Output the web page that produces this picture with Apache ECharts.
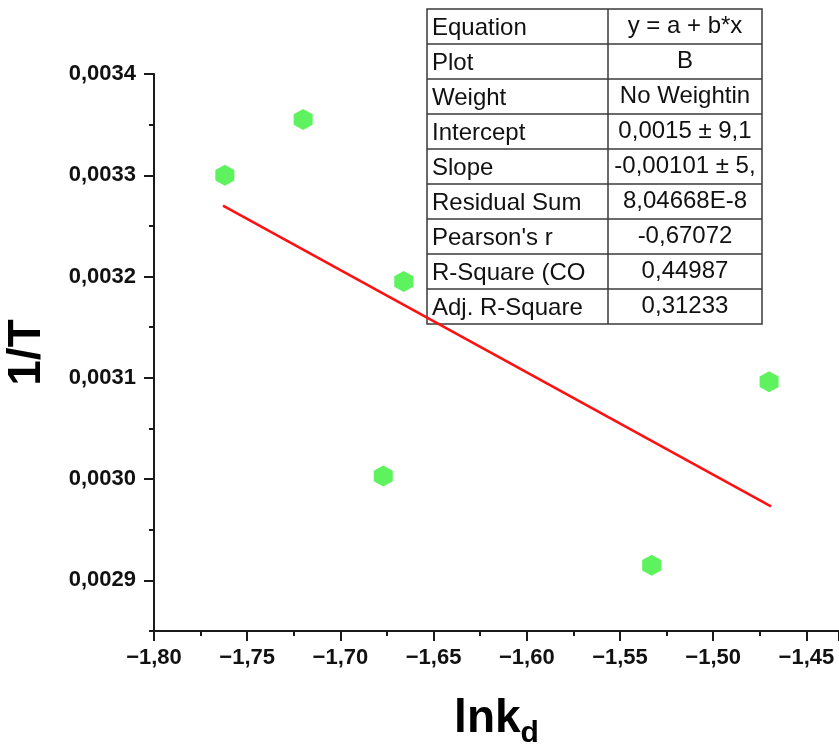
<!DOCTYPE html>
<html>
<head>
<meta charset="utf-8">
<script src="https://cdn.jsdelivr.net/npm/echarts@6/dist/echarts.min.js"></script>
<style>
html,body{margin:0;padding:0;background:#fff;}
#chart{width:839px;height:744px;}
</style>
</head>
<body>
<div id="chart"></div>
<script>
// ---- data ----
var pointsX = [-1.762, -1.720, -1.666, -1.677, -1.533, -1.470];
var pointsY = [0.003300, 0.003355, 0.003195, 0.003003, 0.002915, 0.003096];
var fitX = [-1.763, -1.469];
var fitY = [0.003270, 0.002973];
var yMajorTicks = [0.0029, 0.0030, 0.0031, 0.0032, 0.0033, 0.0034];
var yMinorTicks = [0.00285, 0.00295, 0.00305, 0.00315, 0.00325, 0.00335];
var tableKeys = ['Equation', 'Plot', 'Weight', 'Intercept', 'Slope', 'Residual Sum', "Pearson's r", 'R-Square (CO', 'Adj. R-Square'];
var tableVals = ['y = a + b*x', 'B', 'No Weightin', '0,0015 \u00b1 9,1', '-0,00101 \u00b1 5,', '8,04668E-8', '-0,67072', '0,44987', '0,31233'];

var FONT = '"Liberation Sans", Arial, sans-serif';
var scatterData = pointsX.map(function (x, i) { return [x, pointsY[i]]; });
var fitData = fitX.map(function (x, i) { return [x, fitY[i]]; });

// table graphic
var T = { left: 427, top: 9, right: 762, bottom: 324, split: 608 };
var rowH = (T.bottom - T.top) / tableKeys.length;
var tableChildren = [{
  type: 'rect', shape: { x: T.left, y: T.top, width: T.right - T.left, height: T.bottom - T.top },
  style: { fill: '#fff', stroke: '#3a3a3a', lineWidth: 1.5 }
}, {
  type: 'line', shape: { x1: T.split, y1: T.top, x2: T.split, y2: T.bottom },
  style: { stroke: '#3a3a3a', lineWidth: 1.5 }
}];
tableKeys.forEach(function (k, i) {
  var cy = T.top + rowH * (i + 0.5);
  if (i > 0) {
    tableChildren.push({ type: 'line', shape: { x1: T.left, y1: T.top + rowH * i, x2: T.right, y2: T.top + rowH * i },
      style: { stroke: '#3a3a3a', lineWidth: 1.5 } });
  }
  tableChildren.push({ type: 'text', x: T.left + 5, y: cy + 2,
    style: { text: k, font: '24px ' + FONT, fill: '#111', textAlign: 'left', textVerticalAlign: 'middle' } });
  tableChildren.push({ type: 'text', x: (T.split + T.right) / 2, y: cy,
    style: { text: tableVals[i], font: '24px ' + FONT, fill: '#111', textAlign: 'center', textVerticalAlign: 'middle' } });
});

var chart = echarts.init(document.getElementById('chart'), null, { renderer: 'canvas' });
chart.setOption({
  backgroundColor: '#fff',
  animation: false,
  grid: { left: 154, top: 74, right: 0, bottom: 113, containLabel: false, outerBoundsMode: 'none' },
  xAxis: {
    type: 'value', min: -1.80, max: -1.4325, interval: 0.05,
    splitLine: { show: false },
    axisLine: { onZero: false, lineStyle: { color: '#1a1a1a', width: 2 } },
    axisTick: { length: 10, lineStyle: { color: '#1a1a1a', width: 2 } },
    minorTick: { show: true, splitNumber: 2, length: 5, lineStyle: { color: '#1a1a1a', width: 2 } },
    axisLabel: {
      margin: 16, showMaxLabel: false, color: '#111', fontFamily: FONT, fontWeight: 'bold', fontSize: 22,
      formatter: function (v) { return (v < 0 ? '\u2212' : '') + Math.abs(v).toFixed(2).replace('.', ','); }
    },
    name: '{a|lnk}{b|d}', nameLocation: 'middle', nameGap: 58,
    nameTextStyle: {
      rich: {
        a: { fontFamily: FONT, fontWeight: 'bold', fontSize: 46, color: '#000' },
        b: { fontFamily: FONT, fontWeight: 'bold', fontSize: 30, color: '#000', padding: [30, 0, 0, 0] }
      }
    }
  },
  yAxis: [{
    type: 'value', min: 0.00285, max: 0.0034, interval: 0.00005,
    splitLine: { show: false },
    axisLine: { onZero: false, lineStyle: { color: '#1a1a1a', width: 2 } },
    axisTick: { length: 10, customValues: yMajorTicks, lineStyle: { color: '#1a1a1a', width: 2 } },
    axisLabel: {
      margin: 18, customValues: yMajorTicks, color: '#111', fontFamily: FONT, fontWeight: 'bold', fontSize: 22,
      formatter: function (v) { return v.toFixed(4).replace('.', ','); }
    },
    name: '1/T', nameLocation: 'middle', nameGap: 104,
    nameTextStyle: { fontFamily: FONT, fontWeight: 'bold', fontSize: 46, color: '#000' }
  }, {
    type: 'value', min: 0.00285, max: 0.0034, interval: 0.00005, position: 'left',
    splitLine: { show: false },
    axisLine: { show: false },
    axisTick: { length: 5, customValues: yMinorTicks, lineStyle: { color: '#1a1a1a', width: 2 } },
    axisLabel: { show: false }
  }],
  series: [{
    type: 'line', data: fitData, showSymbol: false, symbol: 'none',
    lineStyle: { color: '#ff1010', width: 2.5 }, z: 2
  }, {
    type: 'scatter', data: scatterData,
    symbol: 'path://M0,-1 L0.866,-0.5 L0.866,0.5 L0,1 L-0.866,0.5 L-0.866,-0.5 Z',
    symbolSize: [19, 21], itemStyle: { color: '#36ef36' }, z: 3
  }],
  graphic: [{ type: 'group', z: 100, children: tableChildren }]
});
</script>
</body>
</html>
